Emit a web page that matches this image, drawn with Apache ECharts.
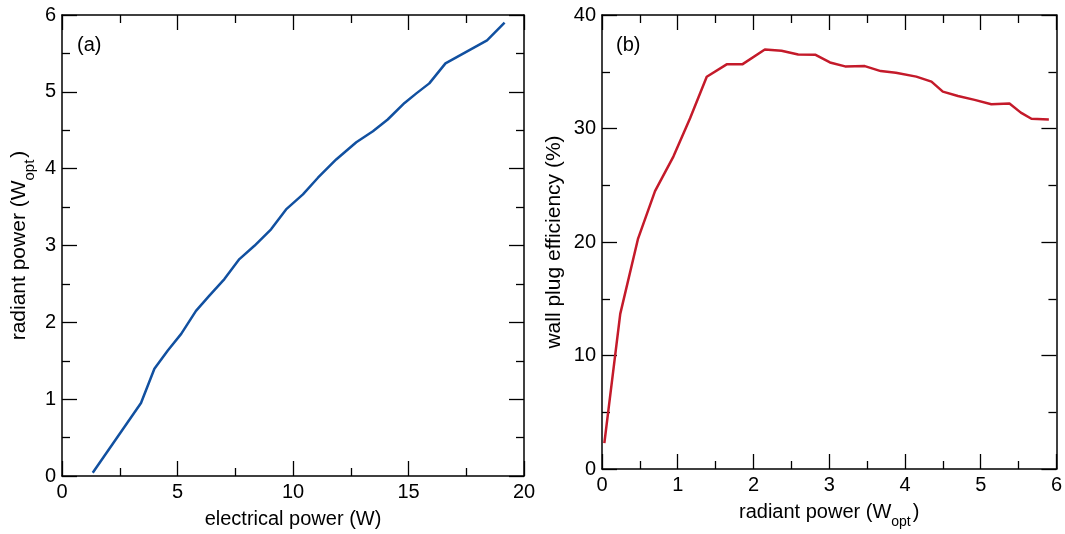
<!DOCTYPE html>
<html>
<head>
<meta charset="utf-8">
<script src="https://cdn.jsdelivr.net/npm/echarts@6/dist/echarts.min.js"></script>
<style>html,body{margin:0;padding:0;background:#fff}#c{width:1065px;height:534px}</style>
</head>
<body>
<div id="c"></div>
<script>
// Panel (a): electrical power (W) vs radiant power (W_opt)
const elecPower = [1.33, 3.42, 4.0, 4.58, 5.16, 5.8, 6.38, 7.03, 7.68, 8.33, 9.05, 9.7, 10.43, 11.08, 11.87, 12.74, 13.46, 14.1, 14.83, 15.34, 15.9, 16.6, 17.5, 18.4, 19.16];
const radPowerA = [0.043, 0.951, 1.396, 1.634, 1.85, 2.15, 2.347, 2.563, 2.823, 2.996, 3.21, 3.47, 3.666, 3.882, 4.12, 4.344, 4.487, 4.64, 4.855, 4.98, 5.11, 5.37, 5.52, 5.67, 5.9];
// Panel (b): radiant power (W_opt) vs wall plug efficiency (%)
const radPowerB = [0.031, 0.241, 0.474, 0.70, 0.944, 1.163, 1.383, 1.646, 1.852, 2.15, 2.37, 2.59, 2.82, 3.01, 3.21, 3.47, 3.68, 3.88, 4.15, 4.35, 4.5, 4.7, 4.92, 5.14, 5.38, 5.53, 5.67, 5.9];
const efficiency = [2.28, 13.67, 20.25, 24.48, 27.55, 30.9, 34.56, 35.65, 35.65, 36.96, 36.85, 36.52, 36.49, 35.82, 35.47, 35.5, 35.06, 34.92, 34.57, 34.13, 33.25, 32.87, 32.52, 32.14, 32.2, 31.4, 30.86, 30.8];

const FONT = '"Liberation Sans", Arial, sans-serif';
const FS = 20;
const FSY = 21;
const lineStyleAxis = { color: '#000', width: 1.5 };

function mkAxis(opts) {
  return Object.assign({
    type: 'value',
    axisLine: { show: true, onZero: false, lineStyle: lineStyleAxis },
    axisTick: { show: true, inside: true, length: 15, lineStyle: { color: '#000', width: 1.3 } },
    minorTick: { show: true, splitNumber: 2, length: 8, lineStyle: { color: '#000', width: 1.3 } },
    splitLine: { show: false },
    axisLabel: { show: true, color: '#000', fontFamily: FONT, fontSize: FS, margin: 6 },
    nameTextStyle: { color: '#000', fontFamily: FONT, fontSize: FS },
  }, opts);
}
const noLabel = { show: false };

function richName(fs) {
  return {
    a: { fontFamily: FONT, fontSize: fs, color: '#000' },
    s: { fontFamily: FONT, fontSize: Math.round(fs * 0.7), color: '#000', verticalAlign: 'bottom', padding: [0, 2, -7, 0] }
  };
}

const option = {
  backgroundColor: '#fff',
  animation: false,
  grid: [
    { left: 62, top: 15, width: 462, height: 463 },
    { left: 602, top: 15, width: 456, height: 457 }
  ],
  xAxis: [
    mkAxis({ gridIndex: 0, min: 0, max: 20, interval: 5, position: 'bottom',
      name: 'electrical power (W)', nameLocation: 'middle', nameGap: 33 }),
    mkAxis({ gridIndex: 0, min: 0, max: 20, interval: 5, position: 'top', axisLabel: noLabel }),
    mkAxis({ gridIndex: 1, min: 0, max: 6, interval: 1, position: 'bottom',
      name: '{a|radiant power (W}{s|opt}{a|)}', nameLocation: 'middle', nameGap: 33,
      nameTextStyle: { rich: richName(FS) } }),
    mkAxis({ gridIndex: 1, min: 0, max: 6, interval: 1, position: 'top', axisLabel: noLabel })
  ],
  yAxis: [
    mkAxis({ gridIndex: 0, min: 0, max: 6, interval: 1, position: 'left',
      name: '{a|radiant power (W}{s|opt}{a|)}', nameLocation: 'middle', nameGap: 32, nameRotate: 90,
      nameTextStyle: { rich: richName(FSY) } }),
    mkAxis({ gridIndex: 0, min: 0, max: 6, interval: 1, position: 'right', axisLabel: noLabel }),
    mkAxis({ gridIndex: 1, min: 0, max: 40, interval: 10, position: 'left',
      name: 'wall plug efficiency (%)', nameLocation: 'middle', nameGap: 37, nameRotate: 90,
      nameTextStyle: { color: '#000', fontFamily: FONT, fontSize: FSY } }),
    mkAxis({ gridIndex: 1, min: 0, max: 40, interval: 10, position: 'right', axisLabel: noLabel })
  ],
  series: [
    { type: 'line', xAxisIndex: 0, yAxisIndex: 0, showSymbol: false, symbol: 'none',
      data: elecPower.map((x, i) => [x, radPowerA[i]]),
      lineStyle: { color: '#1150a0', width: 2.5 } },
    { type: 'line', xAxisIndex: 2, yAxisIndex: 2, showSymbol: false, symbol: 'none',
      data: radPowerB.map((x, i) => [x, efficiency[i]]),
      lineStyle: { color: '#c41a2a', width: 2.5 } }
  ],
  graphic: [
    { type: 'text', left: 77, top: 35, style: { text: '(a)', font: FS + 'px ' + FONT, fill: '#000' } },
    { type: 'text', left: 616, top: 35, style: { text: '(b)', font: FS + 'px ' + FONT, fill: '#000' } }
  ]
};

const chart = echarts.init(document.getElementById('c'), null, { renderer: 'canvas' });
chart.setOption(option);
</script>
</body>
</html>
